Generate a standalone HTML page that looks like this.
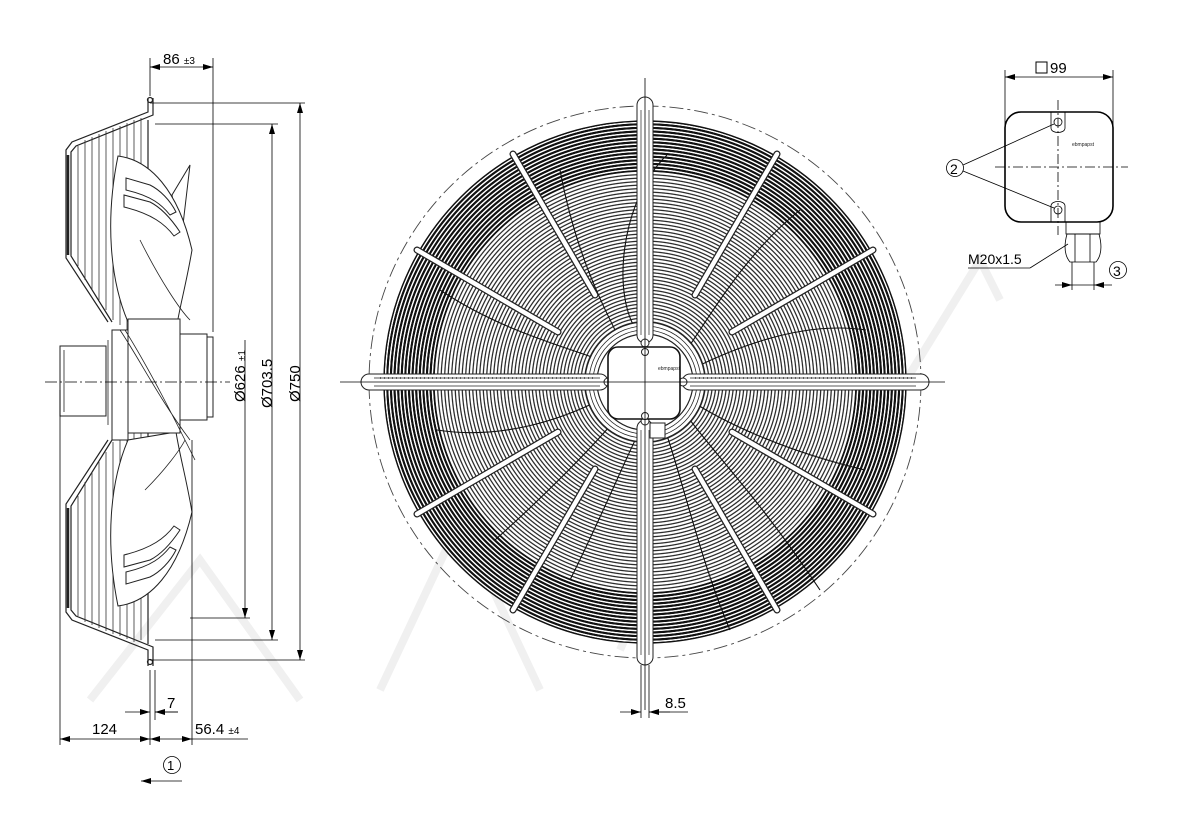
<!DOCTYPE html>
<html><head><meta charset="utf-8"><style>
html,body{margin:0;padding:0;background:#fff;}
svg{display:block;font-family:"Liberation Sans",sans-serif;}
</style></head><body>
<svg width="1200" height="820" viewBox="0 0 1200 820" xmlns="http://www.w3.org/2000/svg">
<defs>
<radialGradient id="dense" gradientUnits="userSpaceOnUse" cx="645" cy="382" r="3.6" spreadMethod="repeat">
<stop offset="0" stop-color="#fff"/><stop offset="0.25" stop-color="#fff"/><stop offset="0.35" stop-color="#111"/><stop offset="0.85" stop-color="#111"/><stop offset="0.95" stop-color="#fff"/><stop offset="1" stop-color="#fff"/>
</radialGradient>
<radialGradient id="sparse" gradientUnits="userSpaceOnUse" cx="645" cy="382" r="7" spreadMethod="repeat">
<stop offset="0" stop-color="#fff"/><stop offset="0.08" stop-color="#2a2a2a"/><stop offset="0.18" stop-color="#2a2a2a"/><stop offset="0.26" stop-color="#fff"/><stop offset="0.5" stop-color="#fff"/><stop offset="0.58" stop-color="#2a2a2a"/><stop offset="0.68" stop-color="#2a2a2a"/><stop offset="0.76" stop-color="#fff"/><stop offset="1" stop-color="#fff"/>
</radialGradient>
<marker id="ar" viewBox="0 0 10 6" refX="10" refY="3" markerWidth="10" markerHeight="6" orient="auto-start-reverse" markerUnits="userSpaceOnUse"><path d="M0,0 L10,3 L0,6z" fill="#000"/></marker>
</defs>

<g fill="none" stroke="#f0f0f0" stroke-width="8">
<path d="M90,700 L200,560 L300,700 M380,690 L460,520 L540,690 M620,650 L700,470 M820,520 L980,260 L1000,300"/>
</g>

<!-- FRONT VIEW -->
<circle cx="645" cy="382" r="276" fill="none" stroke="#444" stroke-width="0.9" stroke-dasharray="14,4,3,4"/>
<circle cx="645" cy="382" r="261" fill="url(#dense)"/>
<circle cx="645" cy="382" r="261" fill="none" stroke="#111" stroke-width="1.4"/>
<circle cx="645" cy="382" r="211" fill="url(#sparse)" stroke="#111" stroke-width="1.2"/>
<g fill="none" stroke="#111" stroke-width="1.1">
<path d="M667,155 C620,200 610,300 640,335"/>
<path d="M560,170 C575,250 600,300 620,340"/>
<path d="M440,290 C500,330 560,345 600,360"/>
<path d="M437,430 C500,440 560,420 600,400"/>
<path d="M495,540 C540,500 590,450 615,420"/>
<path d="M570,580 C600,520 625,460 640,430"/>
<path d="M730,630 C700,560 680,470 665,430"/>
<path d="M820,590 C760,500 720,460 690,420"/>
<path d="M865,470 C780,450 720,420 690,400"/>
<path d="M866,330 C800,320 730,350 690,370"/>
<path d="M800,210 C750,250 720,300 690,345"/>
</g>
<g stroke="#222" stroke-width="7" stroke-linecap="round">
<line x1="873" y1="250" x2="732" y2="332"/><line x1="777" y1="154" x2="695" y2="295"/>
<line x1="513" y1="154" x2="595" y2="295"/><line x1="417" y1="250" x2="558" y2="332"/>
<line x1="417" y1="514" x2="558" y2="432"/><line x1="513" y1="610" x2="595" y2="469"/>
<line x1="777" y1="610" x2="695" y2="469"/><line x1="873" y1="514" x2="732" y2="432"/>
</g>
<g stroke="#fff" stroke-width="4.5" stroke-linecap="round">
<line x1="873" y1="250" x2="732" y2="332"/><line x1="777" y1="154" x2="695" y2="295"/>
<line x1="513" y1="154" x2="595" y2="295"/><line x1="417" y1="250" x2="558" y2="332"/>
<line x1="417" y1="514" x2="558" y2="432"/><line x1="513" y1="610" x2="595" y2="469"/>
<line x1="777" y1="610" x2="695" y2="469"/><line x1="873" y1="514" x2="732" y2="432"/>
</g>
<circle cx="645" cy="382" r="60" fill="#fff" stroke="#222" stroke-width="1.2"/>
<circle cx="645" cy="382" r="56" fill="none" stroke="#222" stroke-width="0.8"/>
<circle cx="645" cy="382" r="52" fill="none" stroke="#222" stroke-width="0.8"/>
<circle cx="645" cy="382" r="48" fill="none" stroke="#222" stroke-width="1.2"/>
<g fill="#fff" stroke="#222" stroke-width="1">
<rect x="637" y="97" width="16" height="246" rx="8"/>
<rect x="637" y="420" width="16" height="245" rx="8"/>
<rect x="361" y="374" width="247" height="16" rx="8"/>
<rect x="682" y="374" width="247" height="16" rx="8"/>
</g>
<g stroke="#222" stroke-width="0.7" fill="none">
<line x1="641" y1="110" x2="641" y2="335"/><line x1="649" y1="110" x2="649" y2="335"/>
<line x1="641" y1="430" x2="641" y2="655"/><line x1="649" y1="430" x2="649" y2="655"/>
<line x1="374" y1="378" x2="600" y2="378"/><line x1="374" y1="386" x2="600" y2="386"/>
<line x1="690" y1="378" x2="916" y2="378"/><line x1="690" y1="386" x2="916" y2="386"/>
</g>
<g stroke="#222" stroke-width="1.5">
<line x1="380" y1="378" x2="595" y2="378" stroke-dasharray="1,3"/>
<line x1="695" y1="378" x2="912" y2="378" stroke-dasharray="1,3"/>
</g>
<circle cx="645" cy="343" r="4" fill="#fff" stroke="#222"/>
<circle cx="645" cy="421" r="4" fill="#fff" stroke="#222"/>
<circle cx="608" cy="382" r="4" fill="#fff" stroke="#222"/>
<circle cx="683" cy="382" r="4" fill="#fff" stroke="#222"/>
<rect x="608" y="347" width="72" height="72" rx="10" fill="#fff" stroke="#111" stroke-width="1.6"/>
<text x="658" y="370" font-size="5" fill="#222">ebmpapst</text>
<circle cx="645" cy="352" r="3.5" fill="#fff" stroke="#222"/>
<circle cx="645" cy="416" r="3.5" fill="#fff" stroke="#222"/>
<rect x="650" y="423" width="15" height="15" fill="#fff" stroke="#222"/>
<g stroke="#000" stroke-width="0.8">
<line x1="645" y1="78" x2="645" y2="710"/>
<line x1="340" y1="382" x2="945" y2="382"/>
<line x1="641" y1="665" x2="641" y2="718"/><line x1="649" y1="665" x2="649" y2="718"/>
<line x1="620" y1="712" x2="641" y2="712" marker-end="url(#ar)"/>
<line x1="670" y1="712" x2="649" y2="712" marker-end="url(#ar)"/>
<line x1="649" y1="712" x2="688" y2="712"/>
</g>
<text x="665" y="708" font-size="15">8.5</text>

<!-- SIDE VIEW -->
<g fill="none" stroke="#222" stroke-width="1.2">
<path d="M148,98 L148,112 L72,142 L66,150 L66,258 L108,322"/>
<path d="M153,98 L153,115 L76,146 L71,152 L71,256 L112,322"/>
<path d="M148,666 L148,650 L72,620 L66,612 L66,504 L108,440"/>
<path d="M153,666 L153,647 L76,616 L71,610 L71,506 L112,440"/>
<line x1="148" y1="120" x2="148" y2="644"/>
<circle cx="150" cy="100" r="2.5"/><circle cx="150" cy="662" r="2.5"/>
</g>
<g stroke="#333" stroke-width="0.8">
<line x1="78" y1="146" x2="78" y2="266"/><line x1="85" y1="140" x2="85" y2="280"/><line x1="92" y1="137" x2="92" y2="290"/>
<line x1="99" y1="134" x2="99" y2="300"/><line x1="106" y1="131" x2="106" y2="310"/><line x1="113" y1="128" x2="113" y2="320"/>
<line x1="120" y1="126" x2="120" y2="325"/><line x1="127" y1="123" x2="127" y2="330"/><line x1="134" y1="120" x2="134" y2="330"/><line x1="141" y1="118" x2="141" y2="640"/>
<line x1="78" y1="496" x2="78" y2="616"/><line x1="85" y1="482" x2="85" y2="622"/><line x1="92" y1="472" x2="92" y2="625"/>
<line x1="99" y1="462" x2="99" y2="628"/><line x1="106" y1="452" x2="106" y2="631"/><line x1="113" y1="442" x2="113" y2="634"/>
<line x1="120" y1="437" x2="120" y2="636"/><line x1="127" y1="432" x2="127" y2="639"/><line x1="134" y1="432" x2="134" y2="642"/>
</g>
<g stroke="#222" stroke-width="2.5"><line x1="68" y1="155" x2="68" y2="255"/><line x1="68" y1="508" x2="68" y2="608"/></g>
<g fill="#fff" stroke="#222" stroke-width="1">
<path d="M190,165 L172,195 L180,250 Z"/>
<path d="M118,156 C150,160 178,190 192,250 C186,285 180,305 176,330 L128,322 C110,280 105,220 118,156Z"/>
<path d="M118,606 C150,602 178,572 192,512 C186,477 180,457 176,432 L128,440 C110,482 105,542 118,606Z"/>
<path d="M126,178 L150,185 C160,190 170,200 176,212 L170,215 C162,205 152,196 126,190Z"/>
<path d="M124,195 L150,202 C162,208 172,220 180,232 L174,236 C165,224 152,214 124,207Z"/>
<path d="M126,584 L150,577 C160,572 170,562 176,550 L170,547 C162,557 152,566 126,572Z"/>
<path d="M124,567 L150,560 C162,554 172,542 180,530 L174,526 C165,538 152,548 124,555Z"/>
<path d="M112,330 L128,330 L128,440 L112,440Z"/>
<path d="M60,346 L106,346 L106,416 L60,416Z"/>
<path d="M128,319 L180,319 L180,433 L128,433Z"/>
<path d="M180,334 L207,334 L207,420 L180,420Z"/>
<path d="M207,337 L213,337 L213,417 L207,417Z"/>
</g>
<g fill="none" stroke="#222" stroke-width="0.8">
<path d="M120,330 C140,360 160,400 190,440 M125,330 C150,370 175,420 195,460"/>
<path d="M140,240 C160,280 180,310 190,320 M145,490 C165,470 180,450 185,440"/>
<line x1="64" y1="350" x2="64" y2="412"/><line x1="108" y1="340" x2="108" y2="425"/>
</g>
<g stroke="#000" stroke-width="0.8" fill="none">
<line x1="45" y1="382" x2="230" y2="382" stroke-dasharray="12,3,2,3"/>
<line x1="150" y1="58" x2="150" y2="96"/><line x1="213" y1="58" x2="213" y2="332"/>
<line x1="150" y1="67" x2="213" y2="67" marker-start="url(#ar)" marker-end="url(#ar)"/>
<line x1="150" y1="103" x2="305" y2="103"/><line x1="150" y1="660" x2="305" y2="660"/>
<line x1="300" y1="103" x2="300" y2="660" marker-start="url(#ar)" marker-end="url(#ar)"/>
<line x1="155" y1="124" x2="278" y2="124"/><line x1="155" y1="640" x2="278" y2="640"/>
<line x1="272" y1="124" x2="272" y2="640" marker-start="url(#ar)" marker-end="url(#ar)"/>
<line x1="190" y1="618" x2="250" y2="618"/>
<line x1="245" y1="340" x2="245" y2="618" marker-end="url(#ar)"/>
<line x1="60" y1="390" x2="60" y2="745"/><line x1="150" y1="670" x2="150" y2="745"/>
<line x1="155" y1="670" x2="155" y2="720"/><line x1="192" y1="440" x2="192" y2="745"/>
<line x1="60" y1="739" x2="150" y2="739" marker-start="url(#ar)" marker-end="url(#ar)"/>
<line x1="150" y1="739" x2="192" y2="739" marker-start="url(#ar)" marker-end="url(#ar)"/>
<line x1="192" y1="739" x2="248" y2="739"/>
<line x1="125" y1="712" x2="150" y2="712" marker-end="url(#ar)"/>
<line x1="178" y1="712" x2="155" y2="712" marker-end="url(#ar)"/>
<line x1="155" y1="712" x2="178" y2="712"/>
<line x1="182" y1="781" x2="141" y2="781" marker-end="url(#ar)"/>
<circle cx="172" cy="765" r="8.5"/>
</g>
<text x="163" y="64" font-size="15">86 <tspan font-size="10">±3</tspan></text>
<text x="92" y="734" font-size="15">124</text>
<text x="195" y="734" font-size="15">56.4 <tspan font-size="10">±4</tspan></text>
<text x="167" y="708" font-size="15">7</text>
<text x="167" y="770" font-size="13">1</text>
<text transform="translate(245,402) rotate(-90)" font-size="15">Ø626 <tspan font-size="10">±1</tspan></text>
<text transform="translate(272,408) rotate(-90)" font-size="15">Ø703.5</text>
<text transform="translate(300,402) rotate(-90)" font-size="15">Ø750</text>

<!-- TERMINAL BOX -->
<g stroke="#000" stroke-width="0.8" fill="none">
<line x1="1005" y1="70" x2="1005" y2="150"/><line x1="1113" y1="70" x2="1113" y2="150"/>
<line x1="1005" y1="77" x2="1113" y2="77" marker-start="url(#ar)" marker-end="url(#ar)"/>
<rect x="1005" y="112" width="108" height="110" rx="16" stroke-width="1.6"/>
<line x1="1058" y1="100" x2="1058" y2="235" stroke-dasharray="10,3,2,3"/>
<line x1="995" y1="167" x2="1128" y2="167" stroke-dasharray="10,3,2,3"/>
<circle cx="1058" cy="122" r="4"/><circle cx="1058" cy="210" r="4"/>
<path d="M1051,112 L1051,128 C1051,134 1065,134 1065,128 L1065,112"/>
<path d="M1051,222 L1051,206 C1051,200 1065,200 1065,206 L1065,222"/>
<circle cx="955" cy="168" r="8.5"/>
<line x1="963" y1="165" x2="1054" y2="124"/><line x1="963" y1="171" x2="1054" y2="208"/>
<path d="M1066,222 L1100,222 L1100,234 L1066,234Z"/>
<path d="M1067,234 C1064,245 1064,255 1070,262 L1096,262 C1102,255 1102,245 1099,234Z"/>
<line x1="1075" y1="234" x2="1075" y2="262"/><line x1="1090" y1="234" x2="1090" y2="262"/>
<line x1="1072" y1="262" x2="1072" y2="290"/><line x1="1094" y1="262" x2="1094" y2="290"/>
<line x1="1055" y1="285" x2="1072" y2="285" marker-end="url(#ar)"/>
<line x1="1112" y1="285" x2="1094" y2="285" marker-end="url(#ar)"/>
<line x1="1072" y1="285" x2="1094" y2="285"/>
<line x1="968" y1="268" x2="1030" y2="268"/><line x1="1030" y1="268" x2="1068" y2="244"/>
<circle cx="1118" cy="270" r="8.5"/>
</g>
<rect x="1036" y="62" width="11" height="11" fill="none" stroke="#000" stroke-width="1"/>
<text x="1050" y="73" font-size="15">99</text>
<text x="1072" y="146" font-size="5" fill="#222">ebmpapst</text>
<text x="950" y="174" font-size="14">2</text>
<text x="1113" y="276" font-size="14">3</text>
<text x="968" y="264" font-size="14">M20x1.5</text>
</svg>
</body></html>
